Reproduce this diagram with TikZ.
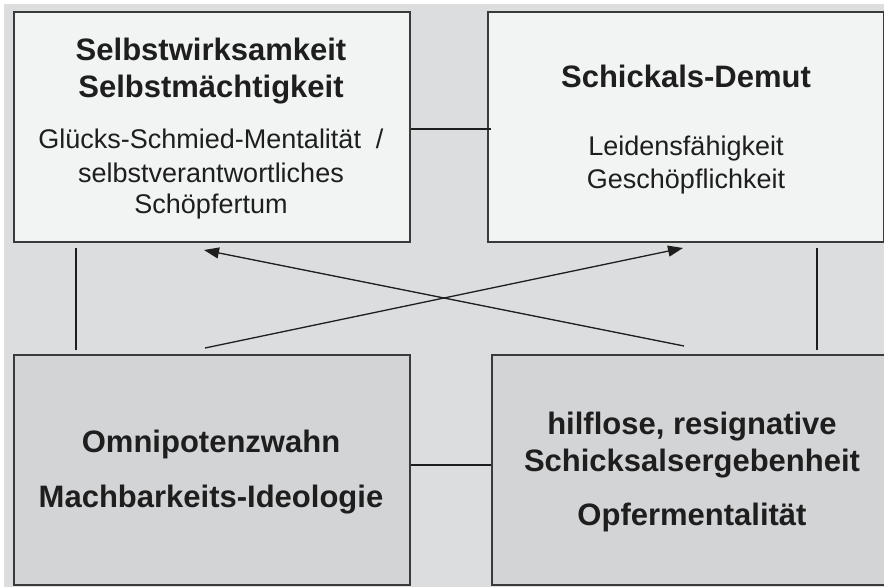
\documentclass[tikz,border=0pt]{standalone}
\usepackage{fontspec}
\setmainfont{Liberation Sans}
\usetikzlibrary{arrows.meta}
\definecolor{bgcol}{HTML}{DCDDDF}
\definecolor{lightfill}{HTML}{F2F3F3}
\definecolor{darkfill}{HTML}{D3D4D6}
\definecolor{edgecol}{HTML}{3A3A3A}
\definecolor{inkcol}{HTML}{1E1E1E}
\begin{document}
\begin{tikzpicture}[x=1pt,y=-1pt,
  box/.style={draw=edgecol,line width=1.6pt,anchor=north west,minimum width=396pt,minimum height=230pt,inner sep=0pt},
  lightbox/.style={box,fill=lightfill},
  darkbox/.style={box,fill=darkfill},
  bold/.style={anchor=base,inner sep=0pt,text=inkcol,font=\fontsize{31}{36}\selectfont\bfseries},
  plain/.style={anchor=base,inner sep=0pt,text=inkcol,font=\fontsize{27}{32}\selectfont},
  conn/.style={draw=inkcol,line width=1.3pt},
  arr/.style={conn,-{Triangle[length=15pt,width=11pt]}}]
\useasboundingbox (0,0) rectangle (884,587);
\fill[bgcol] (4,4) rectangle (884,587);
% boxes
\node[lightbox] (tl) at (13,11) {};
\node[lightbox] (tr) at (487,11) {};
\node[darkbox] (bl) at (13,354) {};
\node[darkbox] (br) at (491,354) {};
% texts top left
\node[bold] (tl1) at (211,60) {Selbstwirksamkeit};
\node[bold] (tl2) at (211,97) {Selbstmächtigkeit};
\node[plain] (tl3) at (211,148) {Glücks-Schmied-Mentalität\ \ /};
\node[plain] (tl4) at (211,182) {selbstverantwortliches};
\node[plain] (tl5) at (211,213) {Schöpfertum};
% texts top right
\node[bold] (tr1) at (686,87) {Schickals-Demut};
\node[plain] (tr2) at (686,155) {Leidensfähigkeit};
\node[plain] (tr3) at (686,188) {Geschöpflichkeit};
% texts bottom left
\node[bold] (bl1) at (211,452) {Omnipotenzwahn};
\node[bold] (bl2) at (211,507) {Machbarkeits-Ideologie};
% texts bottom right
\node[bold] (br1) at (692,434) {hilflose, resignative};
\node[bold] (br2) at (692,471) {Schicksalsergebenheit};
\node[bold] (br3) at (692,525) {Opfermentalität};
% connector end points
\coordinate (h1) at (491,129);
\coordinate (h2) at (491,465);
\coordinate (vl1) at (76,248);
\coordinate (vl2) at (76,350);
\coordinate (vr1) at (817,248);
\coordinate (vr2) at (817,350);
\coordinate (a1s) at (205,348);
\coordinate (a1e) at (683,248);
\coordinate (a2s) at (684,346);
\coordinate (a2e) at (204,250);
% connectors
\draw[conn] (tl.east |- h1) -- (h1);
\draw[conn] (bl.east |- h2) -- (h2);
\draw[conn] (vl1) -- (vl2);
\draw[conn] (vr1) -- (vr2);
\draw[arr] (a1s) -- (a1e);
\draw[arr] (a2s) -- (a2e);
\end{tikzpicture}
\end{document}
